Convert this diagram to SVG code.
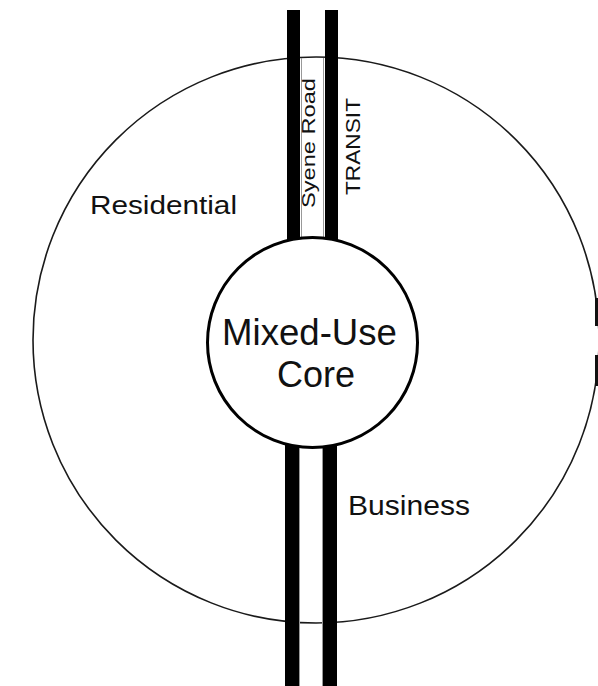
<svg xmlns="http://www.w3.org/2000/svg" width="598" height="686" viewBox="0 0 598 686">
<style>
text{font-family:"Liberation Sans",Arial,Helvetica,sans-serif;fill:#111}
.zone{fill:none;stroke:#1a1a1a;stroke-width:1.6}
.bar{fill:#000}
.edge{stroke:#999;stroke-width:1;fill:none}
.core{fill:#fff;stroke:#000;stroke-width:3}
</style>
<rect width="598" height="686" fill="#fff"/>
<g id="district">
<circle class="zone" cx="316" cy="340" r="283"/>
<rect x="595" y="298" width="3" height="28" fill="#111"/>
<rect x="595" y="355" width="3" height="31" fill="#111"/>
</g>
<g id="connectors">
<line class="edge" x1="301.5" y1="58" x2="301.5" y2="240"/>
<line class="edge" x1="323.5" y1="58" x2="323.5" y2="240"/>
<line class="edge" x1="299.5" y1="445" x2="299.5" y2="686"/>
<line class="edge" x1="322.5" y1="445" x2="322.5" y2="686"/>
<rect class="bar" x="287" y="10" width="13" height="240"/>
<rect class="bar" x="325" y="10" width="13" height="240"/>
<rect class="bar" x="285" y="435" width="14" height="251"/>
<rect class="bar" x="323" y="435" width="14" height="251"/>
</g>
<g id="core">
<circle class="core" cx="312.5" cy="342.5" r="105"/>
<text x="309.5" y="345" font-size="37" text-anchor="middle" textLength="175" lengthAdjust="spacingAndGlyphs">Mixed-Use</text>
<text x="316" y="387" font-size="37" text-anchor="middle" textLength="78" lengthAdjust="spacingAndGlyphs">Core</text>
</g>
<g id="residential">
<text x="90" y="214" font-size="25" textLength="147" lengthAdjust="spacingAndGlyphs">Residential</text>
</g>
<g id="business">
<text x="348" y="515" font-size="28" textLength="122" lengthAdjust="spacingAndGlyphs">Business</text>
</g>
<g id="syene-road">
<text transform="translate(315,143) rotate(-90)" font-size="18" text-anchor="middle" textLength="130" lengthAdjust="spacingAndGlyphs">Syene Road</text>
</g>
<g id="transit">
<text transform="translate(360,146.5) rotate(-90)" font-size="21" text-anchor="middle" textLength="97" lengthAdjust="spacingAndGlyphs">TRANSIT</text>
</g>
</svg>
